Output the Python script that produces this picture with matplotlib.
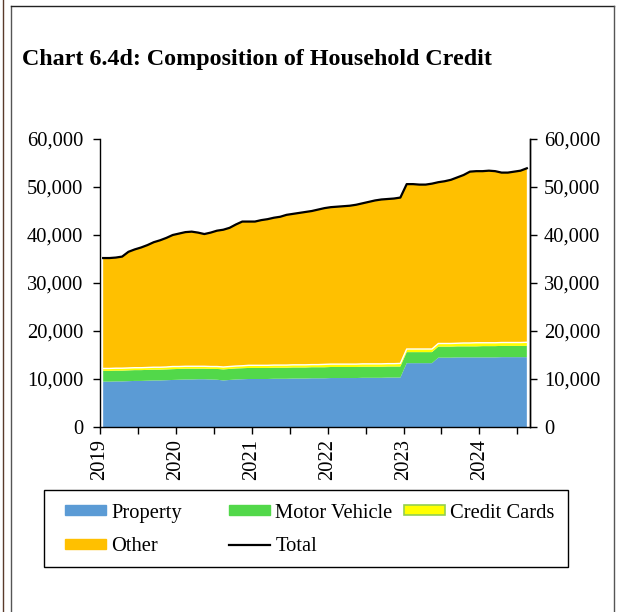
import matplotlib
matplotlib.use("Agg")
import matplotlib.pyplot as plt
from matplotlib.lines import Line2D
from matplotlib.patches import Patch, Rectangle
import numpy as np

plt.rcParams['font.family'] = ['Liberation Serif', 'DejaVu Serif']

# ---- data (thousands of units, monthly Jan 2019 - Aug 2024) ----
months_count = 68
total = [35.2, 35.2, 35.3, 35.5, 36.5, 37.0, 37.4, 37.9, 38.5, 38.9, 39.4, 40.0,
         40.3, 40.6, 40.7, 40.5, 40.2, 40.5, 40.9, 41.1, 41.5, 42.2, 42.8, 42.8,
         42.8, 43.1, 43.3, 43.6, 43.8, 44.2, 44.4, 44.6, 44.8, 45.0, 45.3, 45.6,
         45.8, 45.9, 46.0, 46.1, 46.3, 46.6, 46.9, 47.2, 47.4, 47.5, 47.6, 47.8,
         50.6, 50.6, 50.5, 50.5, 50.7, 51.0, 51.2, 51.5, 52.0, 52.5, 53.2, 53.3,
         53.3, 53.4, 53.3, 53.0, 53.0, 53.2, 53.4, 53.9]
prop = [9.45, 9.45, 9.5, 9.5, 9.55, 9.6, 9.6, 9.65, 9.7, 9.7, 9.75, 9.8,
        9.85, 9.9, 9.9, 9.95, 9.95, 9.9, 9.85, 9.7, 9.8, 9.9, 9.95, 10.0,
        10.0, 10.0, 10.0, 10.05, 10.05, 10.05, 10.1, 10.1, 10.1, 10.15, 10.15, 10.15,
        10.2, 10.2, 10.2, 10.2, 10.2, 10.25, 10.25, 10.25, 10.25, 10.3, 10.3, 10.3,
        13.3, 13.3, 13.3, 13.3, 13.3, 14.45, 14.45, 14.45, 14.5, 14.5, 14.5, 14.5,
        14.5, 14.5, 14.5, 14.55, 14.55, 14.55, 14.55, 14.55]
motor = [2.25, 2.25, 2.25, 2.25, 2.25, 2.25, 2.25, 2.25, 2.25, 2.25, 2.25, 2.25,
         2.25, 2.25, 2.25, 2.2, 2.2, 2.2, 2.25, 2.3, 2.3, 2.3, 2.3, 2.3,
         2.3, 2.3, 2.3, 2.3, 2.3, 2.3, 2.3, 2.3, 2.3, 2.3, 2.3, 2.3,
         2.3, 2.3, 2.3, 2.3, 2.3, 2.3, 2.3, 2.3, 2.3, 2.3, 2.3, 2.3,
         2.3, 2.3, 2.3, 2.3, 2.3, 2.3, 2.3, 2.3, 2.3, 2.3, 2.3, 2.3,
         2.35, 2.35, 2.35, 2.35, 2.35, 2.35, 2.35, 2.35]
cards = [0.5, 0.5, 0.5, 0.5, 0.5, 0.5, 0.5, 0.5, 0.5, 0.5, 0.5, 0.55,
         0.5, 0.5, 0.5, 0.5, 0.5, 0.5, 0.5, 0.5, 0.5, 0.5, 0.5, 0.55,
         0.55, 0.55, 0.55, 0.55, 0.55, 0.55, 0.55, 0.55, 0.55, 0.55, 0.55, 0.6,
         0.6, 0.6, 0.6, 0.6, 0.6, 0.6, 0.6, 0.6, 0.6, 0.6, 0.6, 0.65,
         0.65, 0.65, 0.65, 0.65, 0.65, 0.65, 0.65, 0.65, 0.65, 0.7, 0.7, 0.75,
         0.7, 0.7, 0.7, 0.7, 0.7, 0.7, 0.7, 0.75]
year_labels = ['2019', '2020', '2021', '2022', '2023', '2024']
series_names = ['Property', 'Motor Vehicle', 'Credit Cards', 'Other', 'Total']

scale = 1000.0
x = 2019 + (np.arange(months_count) + 0.5) / 12.0
total_v = np.array(total) * scale
prop_v = np.array(prop) * scale
motor_v = np.array(motor) * scale
cards_v = np.array(cards) * scale
other_v = total_v - prop_v - motor_v - cards_v   # remainder of the total

c_prop = '#5B9BD5'
c_motor = '#52D84A'
c_cards = '#FFFF00'
c_other = '#FFC000'

W, H = 620, 612
fs = 14.8
fig = plt.figure(figsize=(W / 100, H / 100), dpi=100)
ax = fig.add_axes([100 / W, 1 - 427 / H, 430 / W, 288 / H])

ax.stackplot(x, prop_v, motor_v, cards_v, other_v,
             colors=[c_prop, c_motor, c_cards, c_other], linewidth=0)
ax.plot(x, prop_v + motor_v + cards_v, color='white', lw=1.0)
ax.plot(x, total_v, color='black', lw=1.6)

ax.set_xlim(2019, 2019 + months_count / 12.0)
ax.set_ylim(0, 60000)
yt = np.arange(0, 60001, 10000)
ax.set_yticks(yt)
ax.set_yticklabels([f'{int(v):,}' for v in yt])
xt = np.arange(2019, 2024.51, 0.5)
ax.set_xticks(xt)
ax.set_xticklabels([year_labels[int(v) - 2019] if float(v).is_integer() else '' for v in xt],
                   rotation=90)
ax.spines['top'].set_visible(False)
for s in ['left', 'right', 'bottom']:
    ax.spines[s].set_color('black')
    ax.spines[s].set_linewidth(1.0)
ax.tick_params(axis='y', direction='out', length=5, width=1, labelsize=fs,
               colors='black', pad=7)
ax.tick_params(axis='x', direction='out', length=5, width=1, labelsize=fs,
               colors='black', pad=4)

ax2 = ax.twinx()
ax2.set_ylim(0, 60000)
ax2.set_yticks(yt)
ax2.set_yticklabels([f'{int(v):,}' for v in yt])
ax2.tick_params(axis='y', direction='out', length=5, width=1, labelsize=fs, pad=5)
for s in ['top', 'left', 'bottom']:
    ax2.spines[s].set_visible(False)
ax2.spines['right'].set_linewidth(1.0)

# title
fig.text(22 / W, 1 - 60 / H, 'Chart 6.4d: Composition of Household Credit',
         fontsize=17.3, fontweight='bold', va='center', ha='left')

# legend
h_prop = Patch(facecolor=c_prop, edgecolor=c_prop)
h_motor = Patch(facecolor=c_motor, edgecolor=c_motor)
h_cards = Patch(facecolor=c_cards, edgecolor='#92D050', linewidth=1.2)
h_other = Patch(facecolor=c_other, edgecolor=c_other)
h_total = Line2D([], [], color='black', lw=1.6)

fig.add_artist(Rectangle((44 / W, 1 - 567 / H), 524 / W, 77 / H, transform=fig.transFigure,
                         facecolor='white', edgecolor='black', lw=1.0, zorder=1))
common = dict(frameon=False, fontsize=fs, handlelength=2.0, handleheight=0.4,
              handletextpad=0.25, labelspacing=0.72, borderpad=0, borderaxespad=0,
              loc='center left')
l1 = fig.legend([h_prop, h_other], [series_names[0], series_names[3]],
                bbox_to_anchor=(65 / W, 1 - 530 / H), **common)
l2 = fig.legend([h_motor, h_total], [series_names[1], series_names[4]],
                bbox_to_anchor=(229 / W, 1 - 530 / H), **common)
l3 = fig.legend([h_cards], [series_names[2]],
                bbox_to_anchor=(404 / W, 1 - 513 / H), **common)
for l in (l1, l2, l3):
    l.set_zorder(3)

# outer page borders
for xs, ys, col in [((3, 3), (0, H), '#5a3a2a'), ((11, 11), (6, H), '#555555'),
                    ((11, 614), (6, 6), '#222222'), ((614, 614), (6, H), '#555555')]:
    fig.add_artist(Line2D([v / W for v in xs], [1 - v / H for v in ys],
                          transform=fig.transFigure, color=col, lw=1.0))

fig.savefig('out.png', dpi=100)
